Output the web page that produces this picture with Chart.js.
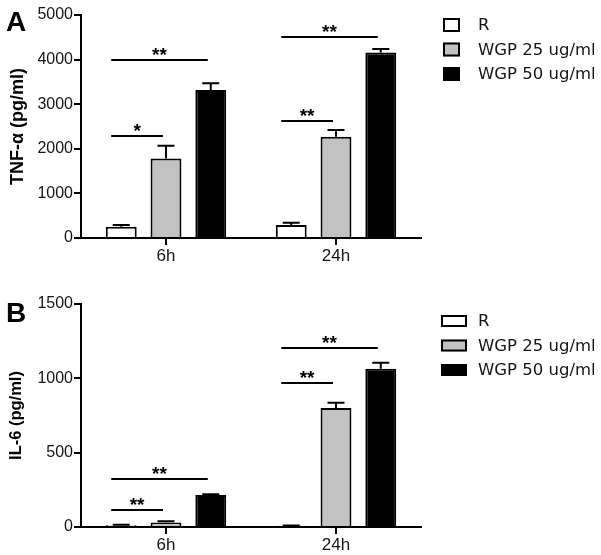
<!DOCTYPE html>
<html><head><meta charset="utf-8">
<script src="https://cdn.jsdelivr.net/npm/chart.js@4/dist/chart.umd.min.js"></script>
<style>
html,body{margin:0;padding:0;background:#fff;}
#wrap{position:relative;width:601px;height:555px;overflow:hidden;}
canvas{position:absolute;left:0;}
#ca{top:0;}
#cb{top:277px;}
</style></head><body>
<div id="wrap">
<canvas id="ca" width="601" height="277"></canvas>
<canvas id="cb" width="601" height="278"></canvas>
</div>
<script>
// ---- data ----
const categories = ['6h', '24h'];
const seriesNames = ['R', 'WGP 25 ug/ml', 'WGP 50 ug/ml'];

const tnfR   = [250, 290];
const tnfW25 = [1780, 2270];
const tnfW50 = [3320, 4160];
const tnfErrR   = [40, 50];
const tnfErrW25 = [290, 150];
const tnfErrW50 = [150, 80];
const tnfTicks = [0, 1000, 2000, 3000, 4000, 5000];
// [category index, from series, to series, bracket value, label]
const tnfSig = [[0, 0, 1, 2290, '*'], [0, 0, 2, 4000, '**'], [1, 0, 1, 2620, '**'], [1, 0, 2, 4500, '**']];

const il6R   = [12, 8];
const il6W25 = [30, 800];
const il6W50 = [215, 1065];
const il6ErrR   = [3, 2];
const il6ErrW25 = [8, 35];
const il6ErrW50 = [5, 40];
const il6Ticks = [0, 500, 1000, 1500];
const il6Sig = [[0, 0, 1, 115, '**'], [0, 0, 2, 320, '**'], [1, 0, 1, 967, '**'], [1, 0, 2, 1207, '**']];

const fills = ['#ffffff', '#c2c2c2', '#000000'];

const FAM = "'Liberation Sans', Arial, sans-serif";
Chart.defaults.font.family = FAM;
Chart.defaults.color = '#151515';

const annot = {
  id: 'annot',
  afterDatasetsDraw(chart, args, o) {
    const ctx = chart.ctx;
    const y = chart.scales.y;
    ctx.save();
    ctx.strokeStyle = '#000';
    ctx.lineWidth = 2;
    // error bars (upper only)
    chart.data.datasets.forEach((ds, i) => {
      const meta = chart.getDatasetMeta(i);
      meta.data.forEach((bar, j) => {
        const top = y.getPixelForValue(ds.data[j] + o.errors[i][j]);
        ctx.beginPath();
        ctx.moveTo(bar.x, bar.y);
        ctx.lineTo(bar.x, top);
        ctx.moveTo(bar.x - 8.5, top);
        ctx.lineTo(bar.x + 8.5, top);
        ctx.stroke();
      });
    });
    // significance brackets
    ctx.fillStyle = '#000';
    ctx.textAlign = 'center';
    ctx.textBaseline = 'alphabetic';
    o.sig.forEach(([c, a, b, v, lab]) => {
      const x0 = chart.getDatasetMeta(a).data[c].x - 10;
      const x1 = chart.getDatasetMeta(b).data[c].x - 3;
      const py = Math.round(y.getPixelForValue(v));
      ctx.beginPath();
      ctx.moveTo(x0, py);
      ctx.lineTo(x1, py);
      ctx.stroke();
      ctx.font = "bold 19px " + FAM;
      ctx.fillText(lab, (x0 + x1) / 2, py + 1);
    });
    // legend
    const L = o.legend;
    ctx.textAlign = 'left';
    ctx.textBaseline = 'middle';
    ctx.font = "16.5px 'DejaVu Sans', sans-serif";
    chart.data.datasets.forEach((ds, i) => {
      const cy = L.y0 + i * L.dy;
      ctx.fillStyle = ds.backgroundColor;
      ctx.fillRect(L.x, cy - L.h / 2, L.w, L.h);
      ctx.strokeRect(L.x + 1, cy - L.h / 2 + 1, L.w - 2, L.h - 2);
      ctx.fillStyle = '#151515';
      ctx.fillText(ds.label, L.tx, cy + 1);
    });
    // panel letter
    ctx.fillStyle = '#000';
    ctx.textBaseline = 'alphabetic';
    ctx.font = "bold 28px " + FAM;
    ctx.fillText(o.letter, 6, o.letterY);
    ctx.restore();
  }
};

function makeChart(id, vals, errs, ticks, sig, title, titleSize, pad, xH, legend, letter, letterY) {
  const tmax = ticks[ticks.length - 1];
  const step = ticks[1] - ticks[0];
  return new Chart(document.getElementById(id), {
    type: 'bar',
    data: {
      labels: categories,
      datasets: vals.map((d, i) => ({
        label: seriesNames[i], data: d,
        backgroundColor: fills[i], borderColor: '#000', borderWidth: 2,
        borderSkipped: 'start',
        categoryPercentage: 0.79, barPercentage: 0.69
      }))
    },
    options: {
      responsive: false, animation: false,
      layout: { padding: pad },
      plugins: {
        legend: { display: false }, tooltip: { enabled: false },
        annot: { errors: errs, sig: sig, legend: legend, letter: letter, letterY: letterY }
      },
      scales: {
        x: {
          grid: { drawOnChartArea: false, offset: false, color: '#000', lineWidth: 2, tickLength: 7 },
          border: { color: '#000', width: 2 },
          ticks: { font: { size: 17 }, padding: 1, color: '#151515' },
          afterFit(s) { s.height = xH; }
        },
        y: {
          min: 0, max: tmax,
          grid: { drawOnChartArea: false, color: '#000', lineWidth: 2, tickLength: 7 },
          border: { color: '#000', width: 2 },
          ticks: { stepSize: step, font: { size: 16 }, padding: 1, color: '#151515',
                   callback: v => String(v) },
          title: { display: true, text: title, color: '#000',
                   font: { size: titleSize, weight: 'bold' }, padding: { top: 7, bottom: 0 } },
          afterFit(s) { s.width = 81; }
        }
      }
    },
    plugins: [annot]
  });
}

makeChart('ca', [tnfR, tnfW25, tnfW50], [tnfErrR, tnfErrW25, tnfErrW50], tnfTicks, tnfSig,
  'TNF-\u03b1 (pg/ml)', 18, { left: 0, right: 180, top: 15, bottom: 9 }, 30,
  { x: 443, y0: 25, dy: 24.5, w: 17, h: 14, tx: 478 }, 'A', 31);

makeChart('cb', [il6R, il6W25, il6W50], [il6ErrR, il6ErrW25, il6ErrW50], il6Ticks, il6Sig,
  'IL-6 (pg/ml)', 16.5, { left: 0, right: 180, top: 27, bottom: 0 }, 28,
  { x: 441, y0: 44, dy: 24.5, w: 26, h: 12, tx: 478 }, 'B', 45);
</script>
</body></html>
